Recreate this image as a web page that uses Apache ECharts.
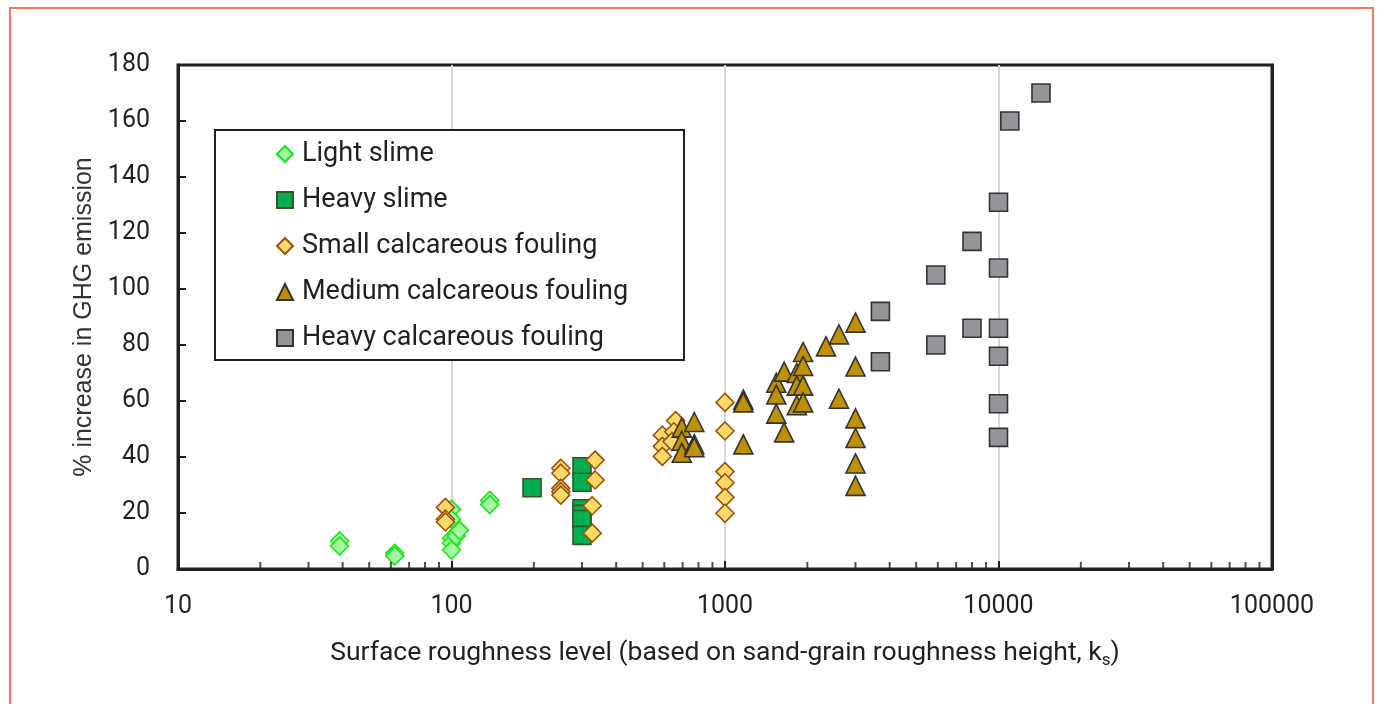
<!DOCTYPE html>
<html>
<head>
<meta charset="utf-8">
<style>
  html, body { margin: 0; padding: 0; background: #ffffff; }
  #chart { width: 1378px; height: 704px; }
</style>
<script src="https://cdn.jsdelivr.net/npm/echarts@6/dist/echarts.min.js"></script>
</head>
<body>
<div id="chart"></div>
<script>
// ---- data (x = surface roughness ks, y = % increase in GHG emission) ----
const seriesNames = [
  'Light slime',
  'Heavy slime',
  'Small calcareous fouling',
  'Medium calcareous fouling',
  'Heavy calcareous fouling'
];

const lightSlime = [
  [39, 10], [39, 8.2], [62, 5.6], [62, 4.6],
  [100, 21.3], [100, 17.7], [100, 11], [100, 9.2], [100, 6.8],
  [104, 11.8], [107, 13.8],
  [138, 24.5], [138, 23]
];

const heavySlime = [
  [197, 29], [300, 36.5], [300, 31], [300, 21.5], [300, 19.5], [300, 17.7], [300, 12]
];

const smallCalcareous = [
  [95, 22], [95, 17.8], [95, 16.8],
  [251, 36], [251, 34.2], [251, 28.8], [251, 27.6], [251, 26.4],
  [335, 38.9], [335, 31.8], [327, 22.6], [327, 12.8],
  [590, 47.8], [590, 43.8], [590, 40.2], [660, 53], [650, 49], [640, 45.5],
  [1000, 59.5], [1000, 49.3], [1000, 34.8], [1000, 30.8], [1000, 25.6], [1000, 19.9]
];

const mediumCalcareous = [
  [695, 50.5], [695, 45.8], [695, 41.5], [772, 52.5], [772, 44.6], [772, 43.5],
  [1167, 60.5], [1167, 59.5], [1167, 44.5],
  [1540, 66.5], [1540, 62.3], [1540, 55.5], [1645, 70.5], [1645, 48.8],
  [1830, 70], [1830, 65.5], [1830, 58.5],
  [1930, 77.5], [1930, 72.5], [1930, 65.5], [1930, 59.5],
  [2340, 79.5], [2610, 83.8], [2610, 60.8],
  [3000, 88], [3000, 72.3], [3000, 53.8], [3000, 46.8], [3000, 37.7], [3000, 29.7]
];

const heavyCalcareous = [
  [14300, 170], [11000, 160], [10000, 131], [8000, 117], [10000, 107.5],
  [5900, 105], [3700, 92], [3700, 74], [8000, 86], [10000, 86],
  [5900, 80], [10000, 76], [10000, 59], [10000, 47]
];

// axis settings
const xMin = 10, xMax = 100000;
const yMin = 0, yMax = 180, yStep = 20;
const minorMultipliers = [2, 3, 4, 5, 6, 7, 8, 9];
const decades = [10, 100, 1000, 10000];

const minorTicks = [];
decades.forEach(d => minorMultipliers.forEach(m => minorTicks.push([d * m, yMin])));

const textColor = '#231f20';
const fontMain = 'Roboto, "Noto Sans", sans-serif';

function scatter(name, data, symbol, size, fill, border) {
  return {
    name: name,
    type: 'scatter',
    data: data,
    symbol: symbol,
    symbolSize: size,
    itemStyle: { color: fill, borderColor: border, borderWidth: 1.6, opacity: 1 },
    emphasis: { disabled: true },
    z: 3
  };
}

const chart = echarts.init(document.getElementById('chart'), null, { renderer: 'canvas' });

chart.setOption({
  animation: false,
  backgroundColor: '#ffffff',
  graphic: [
    {
      type: 'rect',
      shape: { x: 10, y: 8, width: 1363, height: 730 },
      style: { fill: 'none', stroke: '#f37b5b', lineWidth: 2 },
      z: 0
    },
    {
      type: 'rect',
      shape: { x: 215, y: 130, width: 469, height: 230 },
      style: { fill: '#ffffff', stroke: '#231f20', lineWidth: 2 },
      z: 20
    }
  ],
  grid: {
    left: 178, top: 65, right: 106, bottom: 135,
    show: true, borderColor: textColor, borderWidth: 3, backgroundColor: 'transparent'
  },
  legend: {
    data: seriesNames,
    orient: 'vertical',
    left: 276,
    top: 139,
    padding: 0,
    itemWidth: 16,
    itemHeight: 16,
    itemGap: 16,
    z: 21,
    textStyle: { fontFamily: fontMain, fontSize: 27, color: textColor, lineHeight: 30, padding: [0, 0, 0, 4] },
    selectedMode: false
  },
  xAxis: {
    type: 'log',
    logBase: 10,
    min: xMin,
    max: xMax,
    name: 'Surface roughness level (based on sand-grain roughness height, k{sub|s})',
    nameLocation: 'middle',
    nameGap: 68,
    nameTextStyle: {
      fontFamily: fontMain, fontSize: 26.5, color: textColor, lineHeight: 32,
      rich: { sub: { fontFamily: fontMain, fontSize: 17, color: textColor, lineHeight: 32, verticalAlign: 'bottom', padding: [10, 0, 0, 0] } }
    },
    axisLine: { show: true, lineStyle: { color: textColor, width: 3 } },
    axisTick: { show: true, inside: true, length: 8, lineStyle: { color: textColor, width: 2 } },
    axisLabel: { fontFamily: fontMain, fontSize: 25, color: textColor, margin: 25,
      formatter: v => String(Math.round(v)) },
    splitLine: { show: true, lineStyle: { color: '#d9d9d9', width: 2 } },
    minorTick: { show: false }
  },
  yAxis: [
    {
      type: 'value',
      min: yMin,
      max: yMax,
      interval: yStep,
      name: '% increase in GHG emission',
      nameLocation: 'middle',
      nameGap: 79,
      nameTextStyle: { fontFamily: '"Liberation Sans", Arial, sans-serif', fontSize: 25, color: '#333333' },
      axisLine: { show: true, lineStyle: { color: textColor, width: 3 } },
      axisTick: { show: true, inside: true, length: 8, lineStyle: { color: textColor, width: 2 } },
      axisLabel: { fontFamily: fontMain, fontSize: 25, color: textColor, margin: 28 },
      splitLine: { show: false }
    },
    {
      type: 'value',
      position: 'right',
      min: yMin,
      max: yMax,
      interval: yStep,
      axisLine: { show: true, lineStyle: { color: textColor, width: 3 } },
      axisTick: { show: false },
      axisLabel: { show: false },
      splitLine: { show: false }
    }
  ],
  series: [
    scatter(seriesNames[0], lightSlime, 'diamond', 18, '#a3f7a3', '#19e619'),
    scatter(seriesNames[1], heavySlime, 'rect', 18, '#00b050', '#375623'),
    scatter(seriesNames[2], smallCalcareous, 'diamond', 18, '#ffd966', '#9c5212'),
    scatter(seriesNames[3], mediumCalcareous, 'triangle', 19, '#bf9000', '#333333'),
    scatter(seriesNames[4], heavyCalcareous, 'rect', 18, '#939598', '#333333'),
    {
      name: 'minor ticks',
      type: 'scatter',
      data: minorTicks,
      symbol: 'rect',
      symbolSize: [2, 7],
      symbolOffset: [0, -3.5],
      silent: true,
      itemStyle: { color: textColor },
      z: 5
    }
  ]
});
</script>
</body>
</html>
